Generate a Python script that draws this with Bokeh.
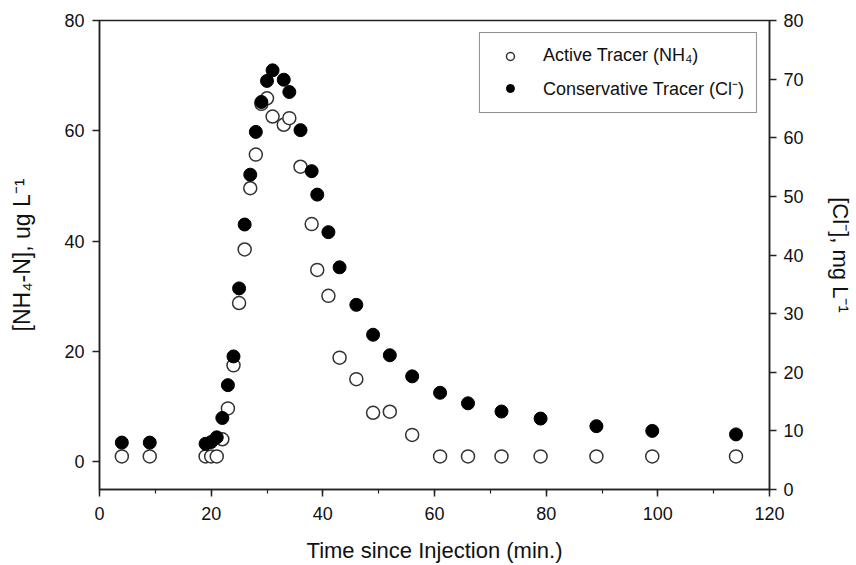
from bokeh.plotting import figure
from bokeh.models import Range1d, LinearAxis, Legend, LegendItem, ColumnDataSource, SingleIntervalTicker
from bokeh.embed import file_html
from bokeh.resources import INLINE

# ---- data ----
t_nh4 = [4, 9, 19, 20, 21, 22, 23, 24, 25, 26, 27, 28, 29, 30, 31, 33, 34, 36, 38, 39,
         41, 43, 46, 49, 52, 56, 61, 66, 72, 79, 89, 99, 114]
nh4 = [1, 1, 1, 1, 1, 4.1, 9.7, 17.5, 28.8, 38.5, 49.6, 55.7, 64.9, 65.9, 62.6, 61.1, 62.3,
       53.5, 43.1, 34.8, 30.1, 18.9, 15.0, 8.9, 9.1, 4.9, 1, 1, 1, 1, 1, 1, 1]

t_cl = [4, 9, 19, 20, 21, 22, 23, 24, 25, 26, 27, 28, 29, 30, 31, 33, 34, 36, 38, 39,
        41, 43, 46, 49, 52, 56, 61, 66, 72, 79, 89, 99, 114]
cl = [8.0, 8.0, 7.8, 8.1, 8.9, 12.2, 17.8, 22.7, 34.3, 45.2, 53.7, 61.0, 66.1, 69.7, 71.5,
      69.9, 67.8, 61.3, 54.3, 50.3, 43.9, 37.9, 31.5, 26.4, 22.9, 19.3, 16.5, 14.7, 13.3,
      12.1, 10.8, 10.0, 9.4]

x_title = "Time since Injection (min.)"
yl_title = "[NH\u2084-N], ug L\u207b\u00b9"
yr_title = "[Cl\u207b], mg L\u207b\u00b9"
lab_nh4 = "Active Tracer (NH\u2084)"
lab_cl = "Conservative Tracer (Cl\u207b)"

FONT = "Liberation Sans"

p = figure(width=856, height=565, output_backend="svg", toolbar_location=None,
           x_range=Range1d(0, 120), y_range=Range1d(-5, 80),
           min_border_left=99, min_border_right=87, min_border_top=20, min_border_bottom=76,
           x_axis_location=None, y_axis_location=None)
p.grid.visible = False
p.outline_line_color = "#222222"
p.outline_line_width = 1.5
p.extra_y_ranges = {"cl": Range1d(0, 80)}
p.background_fill_color = "white"
p.border_fill_color = "white"


def style_axis(ax, title, tsize="22px"):
    ax.axis_label = title
    ax.axis_label_text_font = FONT
    ax.axis_label_text_font_size = tsize
    ax.axis_label_text_font_style = "normal"
    ax.axis_label_text_color = "#111111"
    ax.major_label_text_font = FONT
    ax.major_label_text_font_size = "18px"
    ax.major_label_text_color = "#111111"
    ax.axis_line_color = "#222222"
    ax.axis_line_width = 1.5
    ax.major_tick_line_color = "#222222"
    ax.major_tick_line_width = 1.5
    ax.minor_tick_line_color = "#222222"
    ax.minor_tick_line_width = 1.2
    ax.major_tick_in = 0
    ax.major_tick_out = 7
    ax.minor_tick_in = 0
    ax.minor_tick_out = 4


xa = LinearAxis(ticker=SingleIntervalTicker(interval=20, num_minor_ticks=2))
style_axis(xa, x_title)
xa.major_label_standoff = 10
xa.axis_label_standoff = 15
p.add_layout(xa, "below")

yl = LinearAxis(ticker=SingleIntervalTicker(interval=20, num_minor_ticks=0))
style_axis(yl, yl_title, "23px")
yl.minor_tick_out = 0
yl.major_label_standoff = 8
yl.axis_label_standoff = 26
p.add_layout(yl, "left")

yr = LinearAxis(y_range_name="cl", ticker=SingleIntervalTicker(interval=10, num_minor_ticks=0))
style_axis(yr, yr_title)
yr.minor_tick_out = 0
yr.major_label_standoff = 7
yr.axis_label_standoff = 21
p.add_layout(yr, "right")

src_nh4 = ColumnDataSource(dict(t=t_nh4, v=nh4))
src_cl = ColumnDataSource(dict(t=t_cl, v=cl))

r_open = p.scatter("t", "v", source=src_nh4, marker="circle", size=13,
                   fill_color="white", line_color="#333333", line_width=1.5)
r_fill = p.scatter("t", "v", source=src_cl, y_range_name="cl", marker="circle", size=13,
                   fill_color="black", line_color="black", line_width=1)

legend = Legend(items=[LegendItem(label=lab_nh4, renderers=[r_open]),
                       LegendItem(label=lab_cl, renderers=[r_fill])],
                location="top_right", margin=12, padding=12, spacing=10,
                glyph_width=36, glyph_height=20, label_standoff=15, label_height=20,
                label_text_font=FONT, label_text_font_size="18px",
                label_text_color="#111111",
                border_line_color="#222222", border_line_width=1.5,
                background_fill_color="white", background_fill_alpha=1)
p.add_layout(legend)

open("out.html", "w").write(file_html(p, INLINE))
